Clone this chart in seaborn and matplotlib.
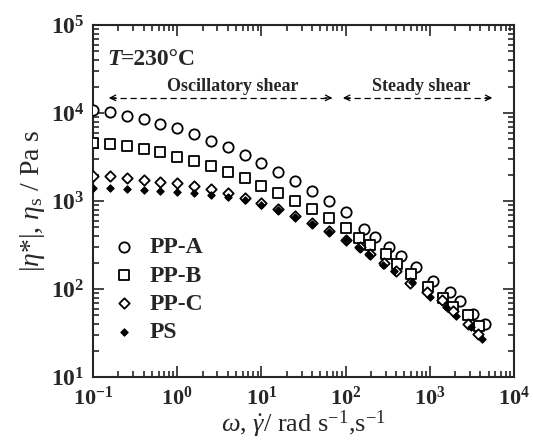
import numpy as np
import pandas as pd
import matplotlib
matplotlib.use("Agg")
import matplotlib.pyplot as plt
import seaborn as sns
from matplotlib.ticker import LogLocator, NullFormatter, FixedLocator, FixedFormatter

# ---------------- data ----------------
omega_osc = [0.1, 0.158, 0.251, 0.398, 0.631, 1.0, 1.585, 2.512, 3.981, 6.31,
             10.0, 15.85, 25.12, 39.81, 63.1, 100.0]
ppa_osc = [10800, 10200, 9300, 8550, 7500, 6700, 5770, 4840, 4070, 3370,
           2720, 2150, 1690, 1310, 1000, 750]
ppb_osc = [4530, 4400, 4250, 3900, 3570, 3180, 2870, 2500, 2150, 1810,
           1500, 1240, 1010, 805, 635, 490]
ppc_osc = [1940, 1925, 1810, 1730, 1660, 1590, 1490, 1360, 1225, 1075,
           940, 805, 676, 560, 456, 362]
ps_osc = [1390, 1390, 1360, 1335, 1310, 1275, 1225, 1170, 1110, 1026,
          900, 790, 664, 555, 446, 358]

rate_ppa = [166, 223, 327, 455, 685, 1091, 1738, 2286, 3258, 4529]
ppa_st = [481, 393, 298, 239, 179, 122, 93, 73, 52, 40]
rate_ppb = [144, 195, 302, 407, 598, 953, 1435, 1888, 2844, 3837]
ppb_st = [377, 316, 248, 191, 147, 106, 80, 63, 51, 38]
rate_ppc = [148, 195, 288, 394, 582, 934, 1384, 1901, 2864, 3767]
ppc_st = [303, 250, 196, 161, 118, 92, 75, 56, 40, 31]
rate_ps = [146, 191, 281, 376, 610, 1005, 1556, 2046, 3062, 4130]
ps_st = [290, 243, 187, 161, 121, 82, 63, 49, 37, 27]

samples = ["PP-A", "PP-B", "PP-C", "PS"]
x_ticks = [0.1, 1, 10, 100, 1000, 10000]
x_ticklabels = [r"$\mathbf{10^{-1}}$", r"$\mathbf{10^{0}}$", r"$\mathbf{10^{1}}$",
                r"$\mathbf{10^{2}}$", r"$\mathbf{10^{3}}$", r"$\mathbf{10^{4}}$"]
y_ticks = [10, 100, 1000, 10000, 100000]
y_ticklabels = [r"$\mathbf{10^{1}}$", r"$\mathbf{10^{2}}$", r"$\mathbf{10^{3}}$",
                r"$\mathbf{10^{4}}$", r"$\mathbf{10^{5}}$"]

rows = []
for name, xo, yo, xs, ys in [
    ("PP-A", omega_osc, ppa_osc, rate_ppa, ppa_st),
    ("PP-B", omega_osc, ppb_osc, rate_ppb, ppb_st),
    ("PP-C", omega_osc, ppc_osc, rate_ppc, ppc_st),
    ("PS", omega_osc, ps_osc, rate_ps, ps_st),
]:
    for a, b in zip(list(xo) + list(xs), list(yo) + list(ys)):
        rows.append({"x": a, "y": b, "sample": name})
df = pd.DataFrame(rows)

# ---------------- style ----------------
sns.set_style("ticks")
plt.rcParams["font.family"] = ["Liberation Serif", "DejaVu Serif"]
plt.rcParams["mathtext.fontset"] = "custom"
plt.rcParams["mathtext.rm"] = "Liberation Serif"
plt.rcParams["mathtext.it"] = "Liberation Serif:italic"
plt.rcParams["mathtext.bf"] = "Liberation Serif:bold"
plt.rcParams["axes.linewidth"] = 1.5

fig = plt.figure(figsize=(5.33, 4.41), dpi=100)
ax = fig.add_axes([93 / 533, 1 - 377 / 441, (514 - 93) / 533, (377 - 25) / 441])

styles = {
    "PP-A": dict(marker="o", s=55, color="white", edgecolor="black", linewidth=1.3),
    "PP-B": dict(marker="s", s=55, color="white", edgecolor="black", linewidth=1.3),
    "PP-C": dict(marker="D", s=28, color="white", edgecolor="black", linewidth=1.3),
    "PS": dict(marker="D", s=14, color="black", edgecolor="black", linewidth=0.8),
}
for name in samples:
    sub = df[df["sample"] == name]
    sns.scatterplot(data=sub, x="x", y="y", ax=ax, label=name, zorder=3, **styles[name])

ax.set_xscale("log")
ax.set_yscale("log")
ax.set_xlim(0.1, 10000)
ax.set_ylim(10, 100000)

ax.xaxis.set_major_locator(FixedLocator(x_ticks))
ax.xaxis.set_major_formatter(FixedFormatter(x_ticklabels))
ax.yaxis.set_major_locator(FixedLocator(y_ticks))
ax.yaxis.set_major_formatter(FixedFormatter(y_ticklabels))
ax.xaxis.set_minor_locator(LogLocator(base=10, subs=np.arange(2, 10), numticks=20))
ax.yaxis.set_minor_locator(LogLocator(base=10, subs=np.arange(2, 10), numticks=20))
ax.xaxis.set_minor_formatter(NullFormatter())
ax.yaxis.set_minor_formatter(NullFormatter())
ax.tick_params(which="both", direction="in", top=True, right=True, width=1.2)
ax.tick_params(which="major", length=8)
ax.tick_params(which="minor", length=4)
ax.tick_params(axis="x", which="major", labelsize=16, pad=7)
ax.tick_params(axis="y", which="major", labelsize=17, pad=6)
for lbl in ax.get_yticklabels():
    lbl.set_verticalalignment("center_baseline")

ax.set_xlabel(r"$\omega$, $\dot{\gamma}$/ rad s$^{-1}$,s$^{-1}$", fontsize=19, labelpad=-1)
ax.set_ylabel(r"|$\eta$*|, $\eta_{\mathrm{s}}$ / Pa s", fontsize=20, labelpad=3)

# annotations
t1 = ax.text(0.033, 0.903, "T", transform=ax.transAxes, fontsize=17, va="center",
             ha="left", fontweight="bold", fontstyle="italic")
ax.annotate("=230\u00b0C", xy=(1.0, 0.5), xycoords=t1, fontsize=17, va="center",
            ha="left", fontweight="bold")
ax.text(0.333, 0.826, "Oscillatory shear", transform=ax.transAxes, fontsize=13,
        va="center", ha="center", fontweight="bold")
ax.text(0.779, 0.826, "Steady shear", transform=ax.transAxes, fontsize=13,
        va="center", ha="center", fontweight="bold")

ya = 0.793
for x0, x1 in [(0.031, 0.575), (0.587, 0.955)]:
    ax.plot([x0 + 0.01, x1 - 0.01], [ya, ya], transform=ax.transAxes, color="black",
            lw=0.9, ls=(0, (5, 3)))
    ax.annotate("", xy=(x0, ya), xytext=(x0 + 0.03, ya), xycoords="axes fraction",
                arrowprops=dict(arrowstyle="->", lw=0.9, color="black",
                                mutation_scale=10))
    ax.annotate("", xy=(x1, ya), xytext=(x1 - 0.03, ya), xycoords="axes fraction",
                arrowprops=dict(arrowstyle="->", lw=0.9, color="black",
                                mutation_scale=10))

leg = ax.legend(loc="upper left", bbox_to_anchor=(0.0, 0.445), frameon=False,
                prop={"weight": "bold", "size": 17}, handletextpad=0.5,
                labelspacing=0.28, borderaxespad=0.3, handlelength=1.2)

fig.savefig("out.png", dpi=100)
